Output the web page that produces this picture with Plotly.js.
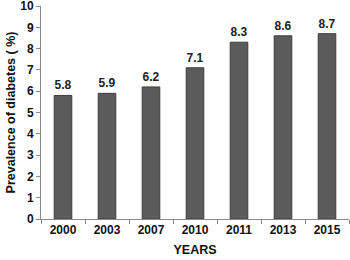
<!DOCTYPE html>
<html><head><meta charset="utf-8">
<script src="https://cdn.plot.ly/plotly-3.0.1.min.js"></script>
<style>html,body{margin:0;padding:0;background:#fff}#chart{width:350px;height:260px}</style>
</head><body><div id="chart"></div>
<script>
const years = ["2000","2003","2007","2010","2011","2013","2015"];
const prevalence = [5.8, 5.9, 6.2, 7.1, 8.3, 8.6, 8.7];
const valueLabels = ["5.8","5.9","6.2","7.1","8.3","8.6","8.7"];
const yTicks = [0,1,2,3,4,5,6,7,8,9,10];

const font = "Liberation Sans, Arial, sans-serif";
Plotly.newPlot("chart", [{
  type: "bar",
  x: years,
  y: prevalence,
  text: valueLabels,
  textposition: "outside",
  cliponaxis: false,
  textfont: {family: font, size: 12, color: "#222", weight: "bold"},
  marker: {color: "#5b5b5b", line: {color: "#3e3e3e", width: 1}},
  width: 0.4,
  hoverinfo: "none"
}], {
  width: 350, height: 260,
  margin: {l: 41, r: 1, t: 6, b: 41},
  paper_bgcolor: "#fff", plot_bgcolor: "#fff",
  showlegend: false,
  font: {family: font, size: 12, color: "#111", weight: "bold"},
  xaxis: {
    type: "category",
    showline: true, linecolor: "#8a8a8a", linewidth: 1,
    ticks: "outside", tickson: "boundaries", ticklen: 4, tickcolor: "#8a8a8a",
    tickfont: {family: font, size: 12, color: "#111", weight: "bold"},
    title: {text: "YEARS", font: {family: font, size: 12.5, color: "#111", weight: "bold"}, standoff: 8},
    showgrid: false, zeroline: false, fixedrange: true, automargin: false
  },
  yaxis: {
    range: [0, 10],
    tickmode: "array", tickvals: yTicks, ticktext: yTicks.map(String),
    ticklabeloverflow: "allow",
    showline: true, linecolor: "#8a8a8a", linewidth: 1,
    ticks: "outside", ticklen: 4, tickcolor: "#8a8a8a",
    tickfont: {family: font, size: 12, color: "#111", weight: "bold"},
    title: {text: "Prevalence of diabetes ( %)", font: {family: font, size: 12.5, color: "#111", weight: "bold"}, standoff: 1},
    showgrid: false, zeroline: false, fixedrange: true, automargin: false
  }
}, {displayModeBar: false, staticPlot: true});
</script></body></html>
